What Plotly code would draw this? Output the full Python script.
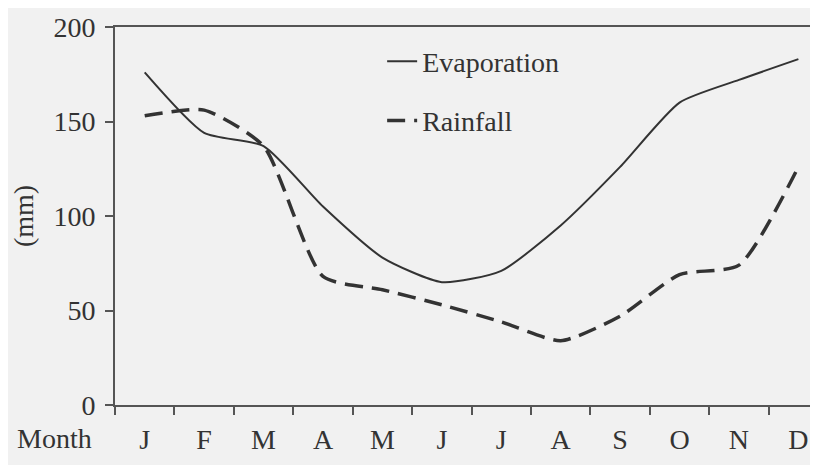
import plotly.graph_objects as go

months = ["J", "F", "M", "A", "M", "J", "J", "A", "S", "O", "N", "D"]
month_pos = [0.5, 1.5, 2.5, 3.5, 4.5, 5.5, 6.5, 7.5, 8.5, 9.5, 10.5, 11.5]
evaporation = [176, 144, 137, 105, 78, 65, 71, 95, 126, 160, 172, 183]
rainfall = [153, 156, 137, 68, 61, 53, 44, 34, 47, 69, 74, 126]
y_ticks = [0, 50, 100, 150, 200]

FONT = "Liberation Serif"
INK = "#333333"
BG = "#f1f1f1"

fig = go.Figure()
fig.add_trace(go.Scatter(
    x=month_pos, y=evaporation, name="Evaporation", mode="lines",
    line=dict(color=INK, width=2, shape="spline", smoothing=0.6),
    legendgroup="e",
))
fig.add_trace(go.Scatter(
    x=month_pos, y=rainfall, name="Rainfall", mode="lines",
    line=dict(color=INK, width=3.5, shape="spline", smoothing=0.6, dash="18px,9px"),
    legendgroup="r",
))

fig.update_layout(
    width=810, height=457,
    margin=dict(l=107, r=0, t=19, b=60, autoexpand=False),
    paper_bgcolor=BG, plot_bgcolor=BG,
    font=dict(family=FONT, size=28, color=INK),
    showlegend=True,
    legend=dict(
        x=0.38, y=0.975, xanchor="left", yanchor="top",
        bgcolor="rgba(0,0,0,0)", tracegroupgap=20,
        font=dict(family=FONT, size=28, color=INK),
    ),
    xaxis=dict(
        range=[0, 11.83], showgrid=False, zeroline=False, automargin=False,
        showline=True, linecolor="#555", linewidth=2, mirror=True,
        tickmode="array", tickvals=month_pos, ticktext=months,
        ticks="", ticklabelstandoff=8,
        tickfont=dict(family=FONT, size=28, color=INK),
        minor=dict(tickmode="linear", tick0=0, dtick=1, ticks="outside",
                   ticklen=8, tickwidth=1.5, tickcolor="#555"),
    ),
    yaxis=dict(
        range=[0, 200], showgrid=False, zeroline=False, automargin=False,
        showline=True, linecolor="#555", linewidth=2,
        tickmode="array", tickvals=y_ticks,
        ticks="outside", ticklen=8, tickwidth=1.5, tickcolor="#555",
        ticklabelstandoff=4,
        tickfont=dict(family=FONT, size=28, color=INK),
        title=dict(text="(mm)", standoff=14, font=dict(family=FONT, size=28, color=INK)),
    ),
    annotations=[dict(
        text="Month", xref="paper", yref="paper", x=-0.142, y=-0.088,
        xanchor="left", yanchor="middle", showarrow=False,
        font=dict(family=FONT, size=28, color=INK),
    )],
)

fig.write_html("out.html")
